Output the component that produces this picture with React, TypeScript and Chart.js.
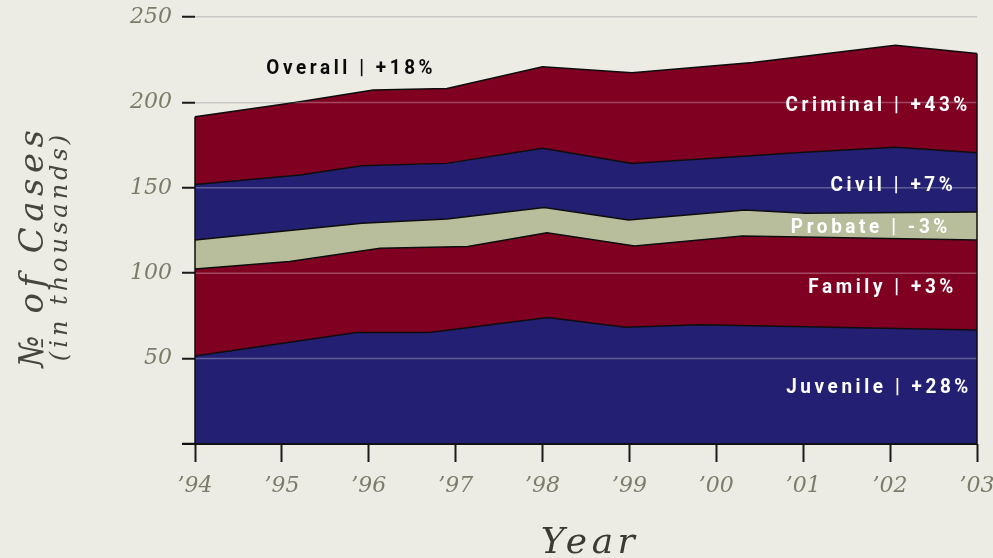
import React, { useEffect, useRef } from 'react';
import { Chart, registerables } from 'chart.js';

Chart.register(...registerables);

// ---- Data (top boundary of each stacked layer, in thousands of cases) ----
const xTickLabels = ['’94', '’95', '’96', '’97', '’98', '’99', '’00', '’01', '’02', '’03'];
const yTickValues = [0, 50, 100, 150, 200, 250];

const juvenileYears = [94, 95.86, 96.7, 98.06, 98.95, 99.81, 103];
const juvenileTop = [51.5, 65.3, 65.3, 74.0, 68.4, 69.8, 66.8];

const familyYears = [94, 95.09, 96.13, 97.14, 98.05, 99.06, 100.3, 103];
const familyTop = [102.5, 106.8, 114.6, 115.6, 123.7, 116.0, 121.8, 119.5];

const probateYears = [94, 95.92, 96.9, 98.02, 98.99, 100.33, 101.02, 103];
const probateTop = [119.5, 129.2, 131.8, 138.4, 131.2, 137.0, 135.1, 135.9];

const civilYears = [94, 95.21, 95.92, 96.9, 98.0, 99.03, 101.01, 102.06, 103];
const civilTop = [152.0, 157.5, 162.9, 164.3, 173.1, 164.3, 170.8, 173.7, 170.5];

const criminalYears = [94, 95.15, 96.05, 96.9, 98.0, 99.03, 100.42, 102.06, 103];
const criminalTop = [191.6, 200.0, 207.2, 208.2, 220.8, 217.3, 223.3, 233.5, 228.7];

const seriesNames = ['Juvenile', 'Family', 'Probate', 'Civil', 'Criminal'];
const labelTexts = ['Juvenile | +28%', 'Family | +3%', 'Probate | -3%', 'Civil | +7%', 'Criminal | +43%'];
const overallText = 'Overall | +18%';

// ---- Styling ----
const BG = '#ECECE5';
const RED = '#800022';
const NAVY = '#231F73';
const SAGE = '#B8BE9C';
const LINE = '#0d0d0d';

// label placement (baseline value on the y scale, inset from right edge in px)
const labelBaselines = [30.0, 88.5, 123.6, 148.1, 195.1];
const labelRightInsets = [8.7, 23.7, 29.7, 24.3, 9.7];
const overallBaseline = 216.5;
const overallStartYear = 94.82;

const LABEL_SCALE = 0.9;
const LABEL_LS = 4;

const pts = (xs: number[], ys: number[]) => xs.map((x, i) => ({ x, y: ys[i] }));

const decorPlugin = {
  id: 'decor',
  afterDatasetsDraw(chart: any) {
    const { ctx, chartArea } = chart;
    const xs = chart.scales.x;
    const ys = chart.scales.y;
    const top = chart.getDatasetMeta(4);
    const x0 = xs.getPixelForValue(94);
    const x1 = xs.getPixelForValue(103);
    const y0 = ys.getPixelForValue(0);

    // light gridlines over the filled areas
    ctx.save();
    ctx.beginPath();
    top.data.forEach((p: any, i: number) => (i ? ctx.lineTo(p.x, p.y) : ctx.moveTo(p.x, p.y)));
    ctx.lineTo(x1, y0);
    ctx.lineTo(x0, y0);
    ctx.closePath();
    ctx.clip();
    ctx.strokeStyle = 'rgba(225,225,225,0.32)';
    ctx.lineWidth = 1.5;
    [50, 100, 150, 200].forEach((v) => {
      const yy = ys.getPixelForValue(v);
      ctx.beginPath();
      ctx.moveTo(chartArea.left, yy);
      ctx.lineTo(chartArea.right, yy);
      ctx.stroke();
    });
    ctx.restore();

    // left / right edges of the stacked area
    ctx.save();
    ctx.strokeStyle = LINE;
    ctx.lineWidth = 1.5;
    const first = top.data[0];
    const last = top.data[top.data.length - 1];
    ctx.beginPath();
    ctx.moveTo(x0, y0);
    ctx.lineTo(x0, first.y);
    ctx.moveTo(x1, y0);
    ctx.lineTo(x1, last.y);
    ctx.stroke();
    // baseline axis
    ctx.lineWidth = 2;
    ctx.strokeStyle = '#111';
    ctx.beginPath();
    ctx.moveTo(chartArea.left - 13, y0);
    ctx.lineTo(chartArea.right, y0);
    ctx.stroke();
    ctx.restore();
  },
  afterDraw(chart: any) {
    const { ctx, chartArea } = chart;
    const xs = chart.scales.x;
    const ys = chart.scales.y;

    // series labels (condensed bold)
    const drawLabel = (t: string, leftX: number | null, rightX: number | null, baseY: number, color: string) => {
      ctx.save();
      ctx.font = 'bold 21px Roboto, "Liberation Sans", sans-serif';
      (ctx as any).letterSpacing = LABEL_LS + 'px';
      ctx.textBaseline = 'alphabetic';
      ctx.textAlign = 'left';
      ctx.fillStyle = color;
      const w = (ctx.measureText(t).width - LABEL_LS) * LABEL_SCALE;
      const lx = leftX !== null ? leftX : (rightX as number) - w;
      ctx.translate(lx, baseY);
      ctx.scale(LABEL_SCALE, 1);
      ctx.fillText(t, 0, 0);
      ctx.restore();
    };
    labelTexts.forEach((t, i) => {
      drawLabel(t, null, chartArea.right - labelRightInsets[i], ys.getPixelForValue(labelBaselines[i]), '#ffffff');
    });
    drawLabel(overallText, xs.getPixelForValue(overallStartYear), null, ys.getPixelForValue(overallBaseline), '#0a0a0a');

    // y axis title
    ctx.save();
    ctx.translate(43, 246);
    ctx.rotate(-Math.PI / 2);
    ctx.textAlign = 'center';
    ctx.textBaseline = 'alphabetic';
    ctx.fillStyle = '#45463d';
    ctx.font = 'italic 34px "DejaVu Serif", serif';
    (ctx as any).letterSpacing = '5.5px';
    ctx.fillText('№ of Cases', 0, 0);
    ctx.font = 'italic 24px "DejaVu Serif", serif';
    (ctx as any).letterSpacing = '4px';
    ctx.fillText('(in thousands)', 0, 24);
    ctx.restore();

    // x axis title
    ctx.save();
    ctx.textAlign = 'center';
    ctx.textBaseline = 'alphabetic';
    ctx.fillStyle = '#3a3b33';
    ctx.font = 'italic 36px "DejaVu Serif", serif';
    (ctx as any).letterSpacing = '4.5px';
    ctx.fillText('Year', 590, 553);
    ctx.restore();
  },
};

export default function App() {
  const ref = useRef<HTMLCanvasElement | null>(null);

  useEffect(() => {
    document.body.style.margin = '0';
    const canvas = ref.current;
    if (!canvas) return;
    const colors = [NAVY, RED, SAGE, NAVY, RED];
    const allData = [
      pts(juvenileYears, juvenileTop),
      pts(familyYears, familyTop),
      pts(probateYears, probateTop),
      pts(civilYears, civilTop),
      pts(criminalYears, criminalTop),
    ];
    const chart = new Chart(canvas, {
      type: 'line',
      data: {
        datasets: seriesNames.map((name, i) => ({
          label: name,
          data: allData[i],
          backgroundColor: colors[i],
          borderColor: LINE,
          borderWidth: 1.5,
          fill: i === 0 ? 'origin' : '-1',
          pointRadius: 0,
          pointHoverRadius: 0,
          tension: 0,
        })),
      },
      options: {
        animation: false,
        responsive: true,
        maintainAspectRatio: false,
        devicePixelRatio: 1,
        layout: { padding: { top: 17, right: 16, left: 0, bottom: 0 } },
        plugins: {
          legend: { display: false },
          tooltip: { enabled: false },
        },
        scales: {
          x: {
            type: 'linear',
            min: 94,
            max: 103,
            afterFit: (s: any) => {
              s.height = 114;
              s.paddingLeft = 0;
              s.paddingRight = 0;
            },
            afterBuildTicks: (s: any) => {
              s.ticks = xTickLabels.map((_, i) => ({ value: 94 + i }));
            },
            border: { display: false },
            grid: {
              drawOnChartArea: false,
              drawTicks: true,
              tickLength: 18,
              tickColor: '#1a1a1a',
              tickWidth: 2,
            },
            ticks: {
              autoSkip: false,
              maxRotation: 0,
              padding: 11,
              color: '#7c7c6a',
              font: { family: '"DejaVu Serif", serif', style: 'italic', size: 22 },
              callback: (v: any) => xTickLabels[Math.round(Number(v)) - 94] ?? '',
            },
          },
          y: {
            min: 0,
            max: 250,
            afterFit: (s: any) => {
              s.width = 195;
              s.paddingTop = 0;
              s.paddingBottom = 0;
            },
            afterBuildTicks: (s: any) => {
              s.ticks = yTickValues.map((v) => ({ value: v }));
            },
            border: { display: false },
            grid: {
              color: '#c8c8c4',
              lineWidth: 1.5,
              drawTicks: true,
              tickLength: 13,
              tickColor: '#1a1a1a',
              tickWidth: 2,
            },
            ticks: {
              padding: 10,
              color: '#7c7c6a',
              font: { family: '"DejaVu Serif", serif', style: 'italic', size: 22 },
              callback: (v: any) => (Number(v) === 0 ? '' : String(v)),
            },
          },
        },
      },
      plugins: [decorPlugin],
    });
    return () => chart.destroy();
  }, []);

  return (
    <div style={{ position: 'fixed', left: 0, top: 0, width: 993, height: 558, background: BG }}>
      <canvas ref={ref} width={993} height={558} />
    </div>
  );
}
